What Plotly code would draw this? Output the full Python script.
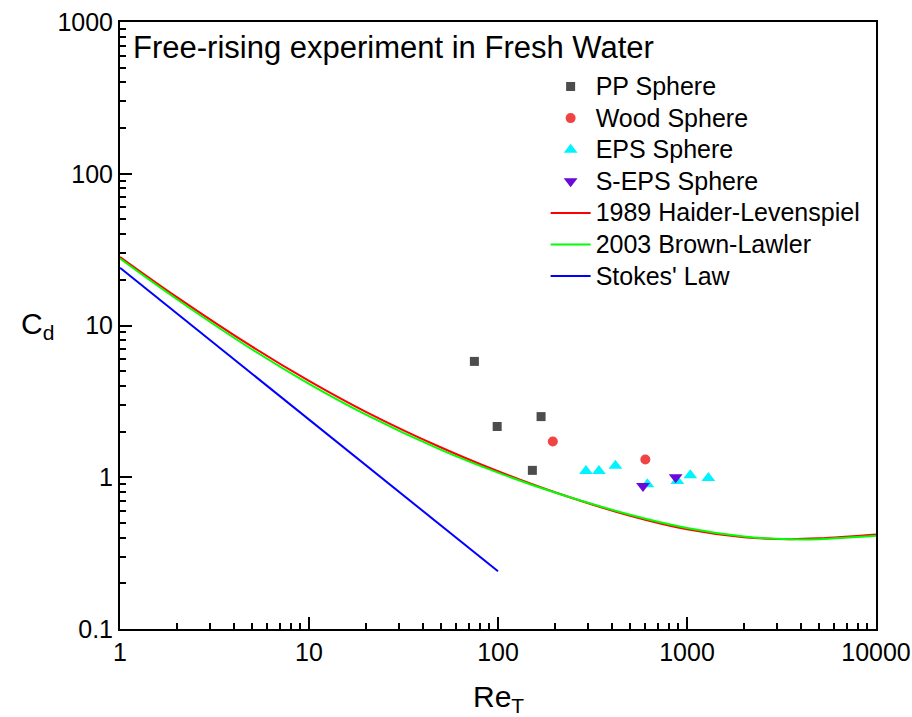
import plotly.graph_objects as go

# Measured terminal Reynolds numbers and drag coefficients
pp_re = [75, 99, 169, 152]
pp_cd = [5.8, 2.16, 2.51, 1.11]

wood_re = [195, 602]
wood_cd = [1.72, 1.31]

eps_re = [292, 342, 418, 617, 889, 1041, 1297]
eps_cd = [1.10, 1.10, 1.19, 0.90, 0.946, 1.03, 0.99]

seps_re = [585, 871]
seps_cd = [0.877, 1.0]

# Drag correlations, tabulated
curve_re = [1, 2, 5, 10, 20, 50, 100, 200, 500, 1000, 2000, 3500, 5000, 10000]
hl_cd = [28.3, 15.39, 7.25, 4.32, 2.70, 1.57, 1.095, 0.796, 0.557, 0.4535, 0.402, 0.391, 0.396, 0.420]
bl_cd = [27.6, 14.89, 6.95, 4.13, 2.59, 1.516, 1.073, 0.793, 0.566, 0.463, 0.407, 0.390, 0.391, 0.411]

stokes_re = [1, 100]
stokes_cd = [24, 0.24]

x_ticks = [1, 10, 100, 1000, 10000]
y_ticks = [0.1, 1, 10, 100, 1000]

FONT = "Liberation Sans, Arial, sans-serif"


def legend_name(text):
    return '<span style="font-size:25px">' + text + "</span>"


fig = go.Figure()

def marker_trace(x, y, name, symbol, color, size, group):
    fig.add_trace(go.Scatter(
        x=x, y=y, mode="markers", name=legend_name(name), legendgroup=group,
        marker=dict(symbol=symbol, color=color, size=size, line=dict(width=0)),
    ))

marker_trace(pp_re, pp_cd, "PP Sphere", "square", "#4d4d4d", 9, "a")
marker_trace(wood_re, wood_cd, "Wood Sphere", "circle", "#f04444", 10, "b")
marker_trace(eps_re, eps_cd, "EPS Sphere", "triangle-up", "#00f4ff", 12, "c")
marker_trace(seps_re, seps_cd, "S-EPS Sphere", "triangle-down", "#6a0ad8", 12, "d")

def line_trace(x, y, name, color, group, shape="spline"):
    fig.add_trace(go.Scatter(
        x=x, y=y, mode="lines", name=legend_name(name), legendgroup=group,
        line=dict(color=color, width=2, shape=shape),
    ))

line_trace(curve_re, hl_cd, "1989 Haider-Levenspiel", "#ff0000", "e")
line_trace(curve_re, bl_cd, "2003 Brown-Lawler", "#00ff00", "f")
line_trace(stokes_re, stokes_cd, "Stokes' Law", "#0000ff", "g", shape="linear")

axis_common = dict(
    type="log",
    showgrid=False,
    zeroline=False,
    showline=True,
    linecolor="black",
    linewidth=2,
    mirror=True,
    ticks="inside",
    ticklen=12,
    tickwidth=1.5,
    tickcolor="black",
    automargin=False,
    tickfont=dict(family=FONT, size=25, color="black"),
    minor=dict(ticks="inside", ticklen=6, tickwidth=1.5, tickcolor="black",
               dtick="D1", showgrid=False),
)

fig.update_xaxes(
    **axis_common,
    range=[0, 4],
    tickvals=x_ticks,
    ticktext=[str(v) for v in x_ticks],
)
fig.update_yaxes(
    **axis_common,
    range=[-1, 3],
    tickvals=y_ticks,
    ticktext=["0.1", "1", "10", "100", "1000"],
)

# Axis titles, both horizontal
fig.add_annotation(
    x=-0.085, y=0.5, xref="paper", yref="paper", xanchor="right", yanchor="middle",
    text="C<sub>d</sub>", showarrow=False,
    font=dict(family=FONT, size=30, color="black"),
)
fig.add_annotation(
    x=0.5, y=-0.081, xref="paper", yref="paper", xanchor="center", yanchor="top",
    text="Re<sub>T</sub>", showarrow=False,
    font=dict(family=FONT, size=30, color="black"),
)

fig.add_annotation(
    x=0.014, y=0.99, xref="paper", yref="paper", xanchor="left", yanchor="top",
    text="Free-rising experiment in Fresh Water", showarrow=False,
    font=dict(family=FONT, size=31, color="black"),
)

fig.update_layout(
    width=912,
    height=717,
    margin=dict(l=120, r=36, t=22, b=88),
    paper_bgcolor="white",
    plot_bgcolor="white",
    showlegend=True,
    legend=dict(
        x=0.563, y=0.928, xanchor="left", yanchor="top",
        font=dict(family=FONT, size=22, color="black"),
        bgcolor="rgba(0,0,0,0)",
        traceorder="grouped",
        tracegroupgap=0,
        itemwidth=40,
    ),
)

fig.write_html("out.html")
